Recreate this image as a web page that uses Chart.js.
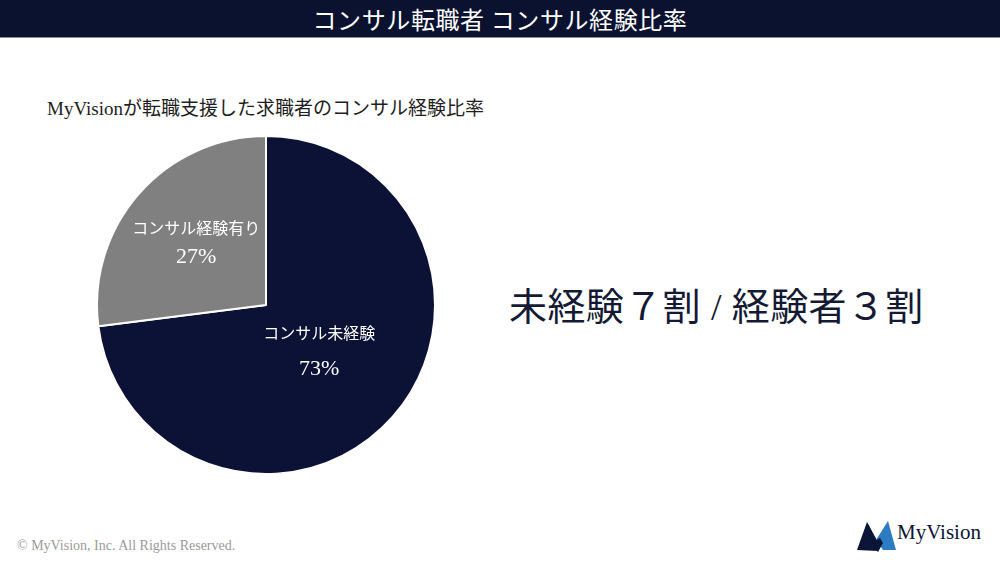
<!DOCTYPE html>
<html lang="ja">
<head>
<meta charset="utf-8">
<script src="https://cdn.jsdelivr.net/npm/chart.js@4.4.1/dist/chart.umd.min.js"></script>
<style>
  html, body { margin:0; padding:0; background:#fff; }
  body { width:1000px; height:562px; position:relative; overflow:hidden;
         font-family:"Liberation Serif","DejaVu Serif","Noto Sans CJK JP",serif; }
  #hdr { position:absolute; left:0; top:0; width:1000px; height:37px; background:#0a1230;
         border-bottom:1px solid #8a8f9c; color:#fff; text-align:center;
         font-family:"Noto Sans CJK JP",sans-serif; font-size:24px; line-height:37px; letter-spacing:0.6px; }
  #sub { position:absolute; left:47px; top:93px; font-size:19px; color:#1e1e1e; white-space:nowrap; }
  #big { position:absolute; left:509px; top:276px; font-size:38px; color:#141a33; white-space:nowrap; letter-spacing:0.4px;
         font-family:"Liberation Serif","Noto Sans CJK JP",serif; }
  #copy { position:absolute; left:17px; top:538px; font-size:14px; color:#9a9a9a; white-space:nowrap; }
  #logo { position:absolute; left:856px; top:518px; width:130px; height:36px; }
  #logotxt { position:absolute; left:897px; top:520px; font-size:21px; color:#0c1537; white-space:nowrap; }
  #wrap { position:absolute; left:96px; top:135px; width:340px; height:340px; }
</style>
</head>
<body>
<div id="hdr">コンサル転職者 コンサル経験比率</div>
<div id="sub">MyVisionが転職支援した求職者のコンサル経験比率</div>
<div id="wrap"><canvas id="c" width="340" height="340"></canvas></div>
<div id="big">未経験７割 / 経験者３割</div>
<div id="copy">© MyVision, Inc. All Rights Reserved.</div>
<svg id="logo" viewBox="0 0 130 36">
  <polygon points="1,32 11,4 20,22 22,33 " fill="#0c1537"/>
  <polygon points="11,4 23,26 22,34 17,24" fill="#0c1537"/>
  <polygon points="20,22 32,3 40,32 27,32" fill="#2d7cc1"/>
  <polygon points="17,24 22,34 27,25 24,20" fill="#0c1537"/>
</svg>
<div id="logotxt">MyVision</div>
<script>
const categories = ["コンサル未経験", "コンサル経験有り"];
const values = [73, 27];
const valueLabels = ["73%", "27%"];
const colors = ["#0b1236", "#808080"];
const labelRadius = [0.42, 0.55];
const labelGap = [35, 28];

const sliceLabels = {
  id: "sliceLabels",
  afterDatasetsDraw(chart) {
    const ctx = chart.ctx;
    const meta = chart.getDatasetMeta(0);
    meta.data.forEach((arc, i) => {
      const p = arc.getProps(["x","y","startAngle","endAngle","outerRadius"], true);
      const mid = (p.startAngle + p.endAngle) / 2;
      const r = p.outerRadius * labelRadius[i];
      const x = p.x + Math.cos(mid) * r;
      const y = p.y + Math.sin(mid) * r;
      const g = labelGap[i] / 2;
      ctx.save();
      ctx.fillStyle = "#ffffff";
      ctx.textAlign = "center";
      ctx.textBaseline = "middle";
      ctx.font = '16px "Liberation Serif","Noto Sans CJK JP",serif';
      ctx.fillText(categories[i], x, y - g);
      ctx.font = '22px "Liberation Serif","DejaVu Serif",serif';
      ctx.fillText(valueLabels[i], x, y + g);
      ctx.restore();
    });
  }
};

new Chart(document.getElementById("c"), {
  type: "pie",
  data: {
    labels: categories,
    datasets: [{
      data: values,
      backgroundColor: colors,
      borderColor: "#ffffff",
      borderWidth: 2,
      hoverOffset: 0
    }]
  },
  options: {
    responsive: false,
    animation: false,
    layout: { padding: 0 },
    plugins: { legend: { display: false }, tooltip: { enabled: false } }
  },
  plugins: [sliceLabels]
});
</script>
</body>
</html>
